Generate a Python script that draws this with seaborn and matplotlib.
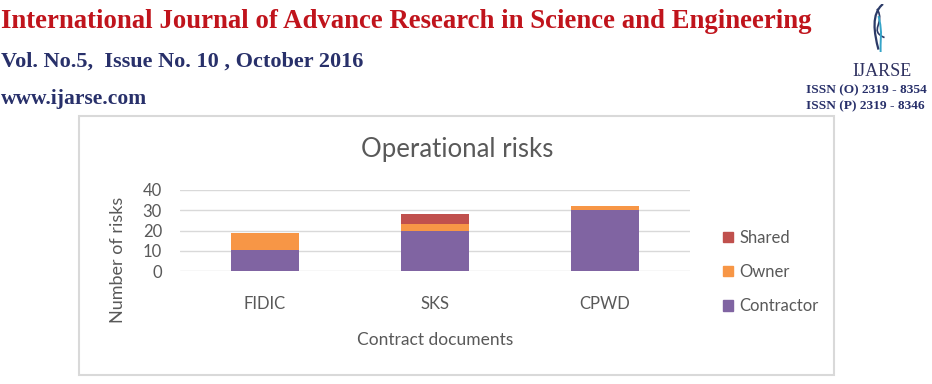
"""Operational risks — stacked bars per contract document (scanned journal page look)."""
import matplotlib
matplotlib.use("Agg")
import matplotlib.pyplot as plt
import numpy as np
import pandas as pd
import seaborn as sns
from matplotlib.patches import Patch, Rectangle
from matplotlib.path import Path as MPath
from matplotlib.patches import PathPatch

# ---- data ----
documents = ["FIDIC", "SKS", "CPWD"]
contractor = [10.5, 20, 30]
owner = [8.5, 3, 2]
shared = [0, 5, 0]
y_ticks = [0, 10, 20, 30, 40]

COLORS = {"Contractor": "#8064a2", "Owner": "#f79646", "Shared": "#c0504d"}
GREY = "#595959"

W, H = 932, 384
sns.set_style("white")
plt.rcParams["font.family"] = ["Lato", "DejaVu Sans"]

fig = plt.figure(figsize=(W / 100, H / 100), dpi=100)


def fx(px):
    return px / W


def fy(py):
    return 1 - py / H


# ---- page header (journal banner) ----
serif = ["Liberation Serif", "DejaVu Serif"]
fig.text(fx(1), fy(28), "International Journal of Advance Research in Science and Engineering",
         family=serif, weight="bold", fontsize=19.3, color="#c0141c", va="baseline")
fig.text(fx(1), fy(67), "Vol. No.5,  Issue No. 10 , October 2016",
         family=serif, weight="bold", fontsize=16, color="#28306a", va="baseline")
fig.text(fx(1), fy(104), "www.ijarse.com",
         family=serif, weight="bold", fontsize=15.5, color="#28306a", va="baseline")
fig.text(fx(882), fy(76), "IJARSE", family=serif, fontsize=13, color="#2e3160",
         ha="center", va="baseline")
fig.text(fx(806), fy(93), "ISSN (O) 2319 - 8354", family=serif, weight="bold",
         fontsize=9.6, color="#28306a", va="baseline")
fig.text(fx(806), fy(109), "ISSN (P) 2319 - 8346", family=serif, weight="bold",
         fontsize=9.6, color="#28306a", va="baseline")

# small logo swoosh
logo_ax = fig.add_axes([fx(862), fy(52), fx(30), 48 / H])
logo_ax.set_axis_off()
logo_ax.set_xlim(0, 1)
logo_ax.set_ylim(0, 1)
for verts, col, lw in [
    ([(0.7, 1.0), (0.3, 0.8), (0.4, 0.4), (0.55, 0.05)], "#2b3a67", 1.6),
    ([(0.5, 0.9), (0.8, 0.6), (0.2, 0.45), (0.75, 0.3)], "#2b3a67", 1.2),
    ([(0.55, 0.75), (0.7, 0.4), (0.6, 0.2), (0.62, 0.0)], "#35a4c8", 1.4),
]:
    p = MPath(verts, [MPath.MOVETO, MPath.CURVE4, MPath.CURVE4, MPath.CURVE4])
    logo_ax.add_patch(PathPatch(p, fill=False, edgecolor=col, lw=lw))

# ---- chart frame ----
fig.add_artist(Rectangle((fx(79), fy(375)), fx(834 - 79), (375 - 116) / H,
                         transform=fig.transFigure, fill=False,
                         edgecolor="#d9d9d9", lw=1.5))

# ---- stacked bars ----
ax = fig.add_axes([fx(180), fy(271), fx(690 - 180), (271 - 190) / H])
df = pd.DataFrame({"doc": documents, "Contractor": contractor,
                   "Owner": owner, "Shared": shared})
lvl1 = np.array(contractor)
lvl2 = lvl1 + np.array(owner)
lvl3 = lvl2 + np.array(shared)
for vals, key in [(lvl3, "Shared"), (lvl2, "Owner"), (lvl1, "Contractor")]:
    sns.barplot(x=df["doc"], y=vals, color=COLORS[key], saturation=1,
                width=0.4, linewidth=0, ax=ax, zorder=3)

ax.set_xlim(-0.5, 2.5)
ax.set_ylim(0, 40)
ax.set_yticks(y_ticks)
ax.yaxis.grid(True, color="#d9d9d9", lw=1)
ax.set_axisbelow(True)
for s in ax.spines.values():
    s.set_visible(False)
ax.tick_params(axis="y", length=0, pad=13, labelsize=12, labelcolor=GREY)
ax.tick_params(axis="x", length=0, pad=18, labelsize=12, labelcolor=GREY)
ax.set_xlabel("")
ax.set_ylabel("")

fig.text(fx(457), fy(150), "Operational risks", ha="center", va="center",
         fontsize=18.5, color=GREY)
fig.text(fx(118), fy(260), "Number of risks", ha="center", va="center",
         rotation=90, fontsize=13, color=GREY)
fig.text(fx(435), fy(340), "Contract documents", ha="center", va="center",
         fontsize=12.5, color=GREY)

handles = [Patch(color=COLORS[k]) for k in ["Shared", "Owner", "Contractor"]]
fig.legend(handles, ["Shared", "Owner", "Contractor"], loc="center left",
           bbox_to_anchor=(fx(708), fy(272)), frameon=False, fontsize=12,
           labelcolor=GREY, handlelength=0.6, handleheight=0.6,
           handletextpad=0.4, labelspacing=1.1)

fig.savefig("out.png", dpi=100, facecolor="white")
